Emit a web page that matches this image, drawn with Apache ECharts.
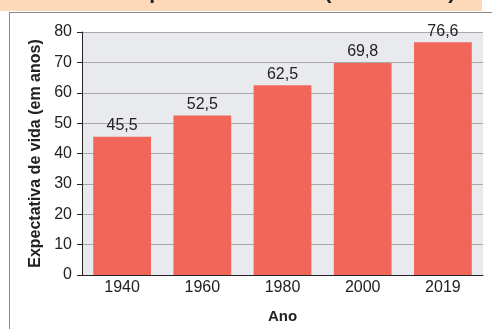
<!DOCTYPE html>
<html>
<head>
<meta charset="utf-8">
<script src="https://cdn.jsdelivr.net/npm/echarts@6/dist/echarts.min.js"></script>
<style>
  html, body { margin: 0; padding: 0; background: #fff; }
  #chart { width: 492px; height: 329px; }
</style>
</head>
<body>
<div id="chart"></div>
<script>
const years = ['1940', '1960', '1980', '2000', '2019']
const lifeExpectancy = [45.5, 52.5, 62.5, 69.8, 76.6]
const yTicks = [0, 10, 20, 30, 40, 50, 60, 70, 80]

const chart = echarts.init(document.getElementById('chart'))
const font = 'Liberation Sans, Arial, sans-serif'

chart.setOption({
  animation: false,
  textStyle: { fontFamily: font },
  graphic: [
    // title band, cut off at the top
    { type: 'rect', shape: { x: 0, y: 0, width: 482, height: 11 }, style: { fill: '#fdd9ba' } },
    {
      type: 'text', x: 255, y: 4,
      style: {
        text: 'Brasil: expectativa de vida (1940 a 2019)',
        font: 'bold 21px ' + font, fill: '#222',
        align: 'center', verticalAlign: 'bottom'
      }
    },
    // frame
    { type: 'line', shape: { x1: 9.5, y1: 12, x2: 9.5, y2: 329 }, style: { stroke: '#8a8a8a', lineWidth: 1 } },
    { type: 'line', shape: { x1: 9, y1: 12.5, x2: 492, y2: 12.5 }, style: { stroke: '#8a8a8a', lineWidth: 1 } }
  ],
  grid: {
    left: 82, right: 9, top: 32, bottom: 51,
    show: true, backgroundColor: '#e9eaee', borderWidth: 0
  },
  xAxis: {
    type: 'category',
    data: years,
    name: 'Ano',
    nameLocation: 'middle',
    nameGap: 34,
    nameTextStyle: { fontWeight: 'bold', fontSize: 15, color: '#222' },
    axisLine: { lineStyle: { color: '#222', width: 1 } },
    axisTick: { show: false },
    axisLabel: { fontSize: 16, color: '#222', margin: 5 }
  },
  yAxis: {
    type: 'value',
    min: yTicks[0],
    max: yTicks[yTicks.length - 1],
    interval: 10,
    name: 'Expectativa de vida (em anos)',
    nameLocation: 'middle',
    nameGap: 36,
    nameTextStyle: { fontWeight: 'bold', fontSize: 16, color: '#222' },
    axisLine: { show: true, lineStyle: { color: '#222', width: 1 } },
    axisTick: { show: true, length: 5, lineStyle: { color: '#222' } },
    axisLabel: { fontSize: 16, color: '#222', margin: 10 },
    splitLine: { lineStyle: { color: '#a8a8a8', width: 1 } }
  },
  series: [
    {
      type: 'bar',
      data: lifeExpectancy,
      barWidth: '72%',
      itemStyle: { color: '#f2665a' },
      label: {
        show: true,
        position: 'top',
        distance: 3,
        fontSize: 16,
        color: '#222',
        formatter: p => String(p.value).replace('.', ',')
      }
    }
  ]
})
</script>
</body>
</html>
